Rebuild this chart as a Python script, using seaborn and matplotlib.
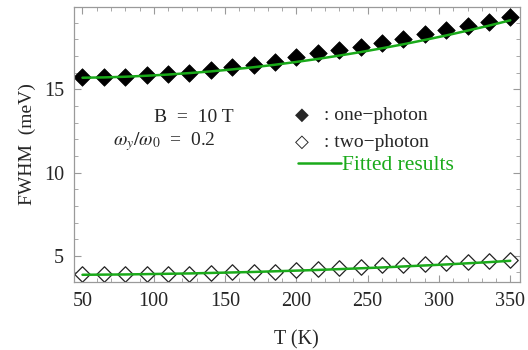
import numpy as np
import pandas as pd
import matplotlib
matplotlib.use("Agg")
import matplotlib.pyplot as plt
import seaborn as sns
from matplotlib.lines import Line2D

# temperatures (K)
temps = [50, 65, 80, 95, 110, 125, 140, 155, 170, 185, 200,
         215, 230, 245, 260, 275, 290, 305, 320, 335, 350]

# FWHM (meV)
one_photon = [15.76, 15.76, 15.76, 15.84, 15.92, 16.00, 16.16, 16.32, 16.47, 16.64, 16.92,
              17.16, 17.36, 17.56, 17.80, 18.04, 18.32, 18.56, 18.80, 19.04, 19.33]
two_photon = [3.88, 3.88, 3.88, 3.88, 3.90, 3.92, 3.96, 4.00, 4.04, 4.04, 4.12,
              4.20, 4.24, 4.32, 4.42, 4.45, 4.52, 4.56, 4.62, 4.68, 4.76]

# fitted curves
fit_one = [15.70, 15.72, 15.76, 15.82, 15.89, 15.98, 16.08, 16.20, 16.33, 16.48, 16.65,
           16.83, 17.03, 17.24, 17.47, 17.71, 17.97, 18.24, 18.53, 18.83, 19.15]
fit_two = [3.86, 3.87, 3.88, 3.90, 3.92, 3.94, 3.97, 4.00, 4.03, 4.07, 4.11,
           4.15, 4.20, 4.25, 4.30, 4.36, 4.42, 4.48, 4.55, 4.62, 4.70]

df = pd.DataFrame({"T": temps, "one": one_photon, "two": two_photon,
                   "fit_one": fit_one, "fit_two": fit_two})

sns.set_style("ticks")
plt.rcParams["font.family"] = ["Liberation Serif", "DejaVu Sans"]
plt.rcParams["mathtext.fontset"] = "stix"

green = "#1aaa1a"
grey = "#9a9a9a"

fig = plt.figure(figsize=(5.28, 3.5), dpi=100)
ax = fig.add_axes([0.140, 0.194, 0.844, 0.786])

sns.lineplot(data=df, x="T", y="fit_one", color=green, lw=1.8, ax=ax, zorder=3)
sns.lineplot(data=df, x="T", y="fit_two", color=green, lw=1.8, ax=ax, zorder=3)
sns.scatterplot(data=df, x="T", y="one", marker="D", s=80, color="black",
                edgecolor="black", linewidth=0.5, ax=ax, zorder=2)
sns.scatterplot(data=df, x="T", y="two", marker="D", s=62, facecolor="white",
                edgecolor="#222222", linewidth=0.9, ax=ax, zorder=2)

ax.set_xlim(44, 356.5)
ax.set_ylim(3.42, 19.95)
ax.set_xticks([50, 100, 150, 200, 250, 300, 350])
ax.set_yticks([5, 10, 15])
ax.set_xticks(np.arange(60, 351, 10), minor=True)
ax.set_yticks(np.arange(4, 20, 1), minor=True)
ax.tick_params(which="both", direction="in", top=True, right=True, color=grey,
               labelsize=14.5, pad=7)
ax.tick_params(which="major", length=5, width=0.8)
ax.tick_params(which="minor", length=3, width=0.6)
for sp in ax.spines.values():
    sp.set_color(grey)
    sp.set_linewidth(0.9)

ax.set_xlabel("T (K)", fontsize=14.5, labelpad=14)
ax.set_ylabel("FWHM  (meV)", fontsize=14, labelpad=6)

# annotations and hand-made legend
ax.text(0.268, 0.583, "B  =  10 T", transform=ax.transAxes, fontsize=14,
        ha="center", va="baseline")
ax.text(0.202, 0.496, r"$\omega_y/\omega_0$  =  0.2", transform=ax.transAxes,
        fontsize=14, ha="center", va="baseline")

ax.text(0.495, 0.589, "◆", transform=ax.transAxes, fontsize=13,
        family=["DejaVu Sans"], va="baseline")
ax.text(0.562, 0.589, ": one\u2212photon", transform=ax.transAxes, fontsize=14,
        va="baseline")
ax.text(0.495, 0.492, "◇", transform=ax.transAxes, fontsize=13,
        family=["DejaVu Sans"], va="baseline")
ax.text(0.562, 0.492, ": two\u2212photon", transform=ax.transAxes, fontsize=14,
        va="baseline")
ax.add_line(Line2D([0.503, 0.599], [0.432, 0.432], transform=ax.transAxes,
                   color=green, lw=1.8))
ax.text(0.601, 0.407, "Fitted results", transform=ax.transAxes, fontsize=15.5,
        color=green, va="baseline")

fig.savefig("out.png", dpi=100)
